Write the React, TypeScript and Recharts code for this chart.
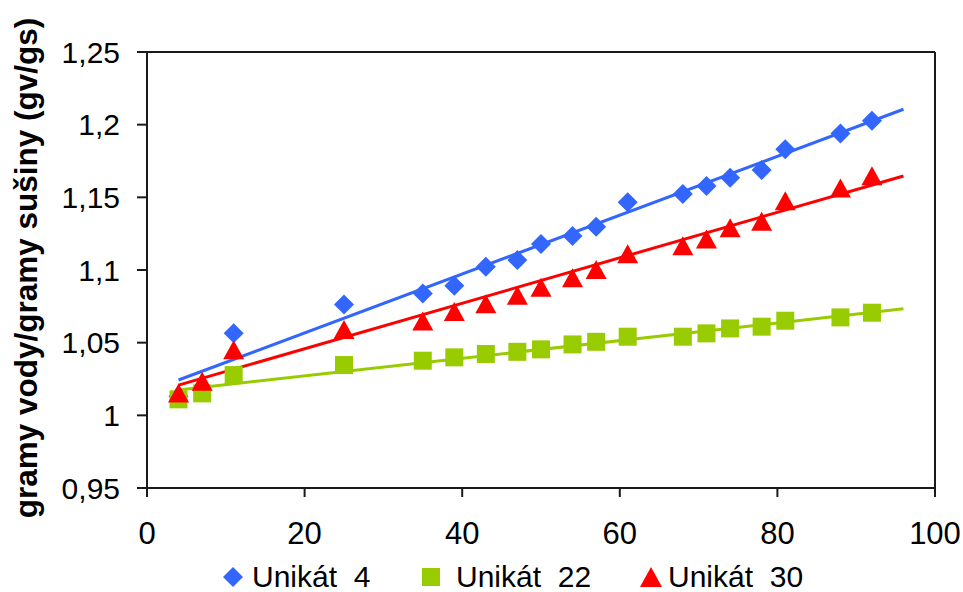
import React from 'react';
import { ScatterChart, Scatter, XAxis, YAxis, Legend, ReferenceLine, Label } from 'recharts';

const FONT = '"Liberation Sans", Arial, Helvetica, sans-serif';

// ---- data ----
const daysU4 = [4, 11, 25, 35, 39, 43, 47, 50, 54, 57, 61, 68, 71, 74, 78, 81, 88, 92];
const valuesU4 = [1.0132, 1.0564, 1.0763, 1.0839, 1.0892, 1.1023, 1.1068, 1.1179, 1.1234, 1.1298, 1.1466, 1.1523, 1.1578, 1.1635, 1.1688, 1.183, 1.194, 1.2027];

const days = [4, 7, 11, 25, 35, 39, 43, 47, 50, 54, 57, 61, 68, 71, 74, 78, 81, 88, 92];
const valuesU22 = [1.011, 1.0151, 1.0277, 1.0346, 1.0376, 1.0399, 1.0422, 1.0437, 1.0454, 1.0488, 1.0506, 1.0541, 1.0541, 1.0564, 1.0598, 1.061, 1.0651, 1.0674, 1.0706];
const valuesU30 = [1.0153, 1.0234, 1.0451, 1.0591, 1.0649, 1.0715, 1.0768, 1.0826, 1.0881, 1.0947, 1.1004, 1.1112, 1.1167, 1.1213, 1.1291, 1.1335, 1.1477, 1.1564, 1.1649];

// trend line end points
const trendX = [4, 96];
const trendU4 = [1.0243, 1.2106];
const trendU22 = [1.0174, 1.0733];
const trendU30 = [1.0208, 1.1647];

const xTicks = [0, 20, 40, 60, 80, 100];
const yTicks = [0.95, 1, 1.05, 1.1, 1.15, 1.2, 1.25];

const seriesNames = ['Unikát\u00a0 4', 'Unikát\u00a0 22', 'Unikát\u00a0 30'];
const yTitle = 'gramy vody/gramy sušiny (gv/gs)';

const BLUE = '#3366FF';
const GREEN = '#99CC00';
const RED = '#FF0000';
const AXIS = '#1a1a1a';

const zip = (xs: number[], ys: number[]) => xs.map((x, i) => ({ x, y: ys[i] }));

const dataU4 = zip(daysU4, valuesU4);
const dataU22 = zip(days, valuesU22);
const dataU30 = zip(days, valuesU30);
const lineU4 = zip(trendX, trendU4);
const lineU22 = zip(trendX, trendU22);
const lineU30 = zip(trendX, trendU30);

const Diamond = (props: any) => {
  const { cx, cy, fill } = props;
  if (cx == null || cy == null) return <g />;
  const r = 10;
  return <polygon points={`${cx},${cy - r} ${cx + r},${cy} ${cx},${cy + r} ${cx - r},${cy}`} fill={fill} />;
};
const Square = (props: any) => {
  const { cx, cy, fill } = props;
  if (cx == null || cy == null) return <g />;
  const r = 9;
  return <rect x={cx - r} y={cy - r} width={2 * r} height={2 * r} fill={fill} />;
};
const Triangle = (props: any) => {
  const { cx, cy, fill } = props;
  if (cx == null || cy == null) return <g />;
  const w = 10.5;
  const h = 9.5;
  return <polygon points={`${cx},${cy - h} ${cx + w},${cy + h} ${cx - w},${cy + h}`} fill={fill} />;
};
const NoShape = () => <g />;

const fmtY = (v: number) => String(Number(v.toFixed(2))).replace('.', ',');

const legendItems = [
  { name: seriesNames[0], color: BLUE, shape: 'diamond', iconX: 233, textX: 252 },
  { name: seriesNames[1], color: GREEN, shape: 'square', iconX: 431, textX: 456 },
  { name: seriesNames[2], color: RED, shape: 'triangle', iconX: 651, textX: 668 },
];

const LegendIcon = ({ shape, color }: { shape: string; color: string }) => {
  let el: React.ReactNode = null;
  if (shape === 'diamond') el = <polygon points="11,1 21,11 11,21 1,11" fill={color} />;
  else if (shape === 'square') el = <rect x={2} y={2} width={18} height={18} fill={color} />;
  else el = <polygon points="11,1 22,21 0,21" fill={color} />;
  return (
    <svg width={22} height={22} style={{ position: 'absolute', top: 4 }}>
      {el}
    </svg>
  );
};

const renderLegend = () => (
  <div style={{ position: 'relative', width: 963, height: 30, fontFamily: FONT, fontSize: 30, color: '#000' }}>
    {legendItems.map((it) => (
      <React.Fragment key={it.name}>
        <div style={{ position: 'absolute', left: it.iconX - 11, top: 0, width: 22, height: 30 }}>
          <LegendIcon shape={it.shape} color={it.color} />
        </div>
        <span style={{ position: 'absolute', left: it.textX, top: 0, lineHeight: '30px', whiteSpace: 'pre' }}>{it.name}</span>
      </React.Fragment>
    ))}
  </div>
);

const TitleLabel = () => (
  <text
    x={36.5}
    y={268}
    transform="rotate(-90 36.5 268)"
    textAnchor="middle"
    fontFamily={FONT}
    fontSize={31.5}
    fontWeight="bold"
    fill="#000"
  >
    {yTitle}
  </text>
);

export default function App() {
  return (
    <div style={{ position: 'absolute', left: 0, top: 0, width: 963, height: 592, background: '#fff' }}>
      <ScatterChart width={963} height={592} margin={{ top: 52, right: 28, bottom: 0, left: 47 }}>
        <XAxis
          type="number"
          dataKey="x"
          domain={[0, 100]}
          ticks={xTicks}
          interval={0}
          height={74}
          tickSize={9}
          tickMargin={25}
          axisLine={{ stroke: AXIS, strokeWidth: 2 }}
          tickLine={{ stroke: AXIS, strokeWidth: 2 }}
          tick={{ fill: '#000', fontSize: 31, fontFamily: FONT }}
          allowDataOverflow
        />
        <YAxis
          type="number"
          dataKey="y"
          domain={[0.95, 1.25]}
          ticks={yTicks}
          interval={0}
          width={100}
          tickSize={10}
          tickMargin={17}
          tickFormatter={fmtY}
          axisLine={{ stroke: AXIS, strokeWidth: 2 }}
          tickLine={{ stroke: AXIS, strokeWidth: 2 }}
          tick={{ fill: '#000', fontSize: 30, fontFamily: FONT }}
          allowDataOverflow
        >
          <Label content={<TitleLabel />} />
        </YAxis>
        <ReferenceLine y={1.25} stroke={AXIS} strokeWidth={2} ifOverflow="extendDomain" />
        <ReferenceLine x={100} stroke={AXIS} strokeWidth={2} ifOverflow="extendDomain" />

        <Scatter data={lineU4} line={{ stroke: BLUE, strokeWidth: 3 }} shape={NoShape} legendType="none" isAnimationActive={false} />
        <Scatter data={lineU22} line={{ stroke: GREEN, strokeWidth: 3 }} shape={NoShape} legendType="none" isAnimationActive={false} />
        <Scatter data={lineU30} line={{ stroke: RED, strokeWidth: 3 }} shape={NoShape} legendType="none" isAnimationActive={false} />

        <Scatter name={seriesNames[0]} data={dataU4} fill={BLUE} shape={Diamond} isAnimationActive={false} />
        <Scatter name={seriesNames[1]} data={dataU22} fill={GREEN} shape={Square} isAnimationActive={false} />
        <Scatter name={seriesNames[2]} data={dataU30} fill={RED} shape={Triangle} isAnimationActive={false} />

        <Legend
          verticalAlign="bottom"
          align="left"
          height={30}
          content={renderLegend}
          wrapperStyle={{ left: 0, bottom: 0, width: 963, height: 30 }}
        />
      </ScatterChart>
    </div>
  );
}
